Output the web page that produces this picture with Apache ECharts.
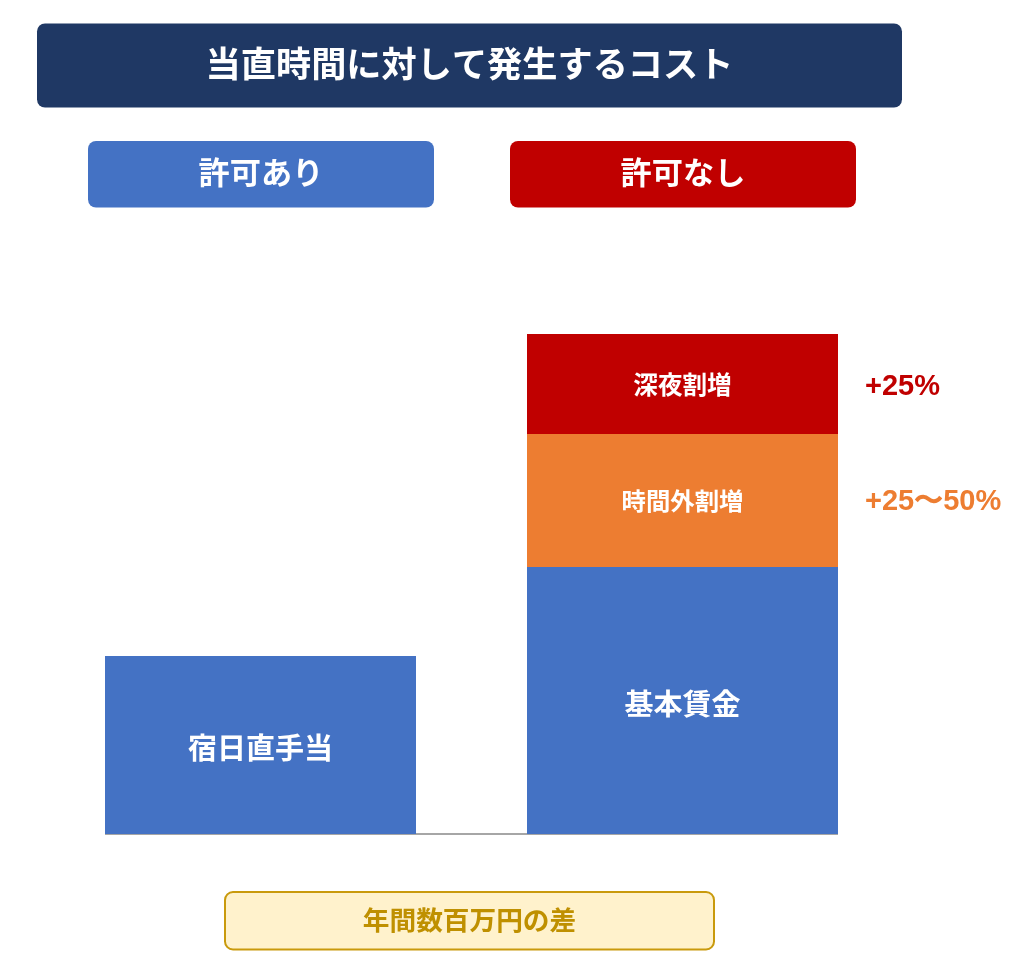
<!DOCTYPE html>
<html><head><meta charset="utf-8">
<style>html,body{margin:0;padding:0;background:#fff}#c{width:1024px;height:971px}</style>
<script src="https://cdn.jsdelivr.net/npm/echarts@6/dist/echarts.min.js"></script>
</head><body><div id="c"></div>
<script>
const categories = ['許可あり', '許可なし'];
const titleText = '当直時間に対して発生するコスト';
const diffText = '年間数百万円の差';
const allowance = [178, null];
const baseWage = [null, 267];
const overtime = [null, 133];
const lateNight = [null, 100];
const seriesNames = ['宿日直手当', '基本賃金', '時間外割増', '深夜割増'];
const rateNotes = ['+25%', '+25〜50%'];

const JP = '"Noto Sans CJK JP","Noto Sans CJK SC",sans-serif';
const NAVY = '#1f3864', BLUE = '#4472c4', RED = '#c00000', ORANGE = '#ed7d31';

function box(x, y, w, h, r, fill, text, size, color, dy, stroke) {
  return {
    type: 'rect', shape: { x, y, width: w, height: h, r },
    style: { fill, stroke: stroke || null, lineWidth: stroke ? 2 : 0 },
    textContent: { style: { text, fill: color, fontFamily: JP, fontWeight: 'bold', fontSize: size } },
    textConfig: { position: 'inside', offset: [0, dy] }
  };
}
function note(x, y, text, fill) {
  return { type: 'text', x, y, style: { text, fill, fontFamily: '"Liberation Sans",sans-serif', fontWeight: 'bold', fontSize: 29, textVerticalAlign: 'middle' } };
}
function barSeries(name, data, color, size, offsetY, stack) {
  return {
    name, type: 'bar', data, stack, barWidth: 311, itemStyle: { color }, silent: true,
    label: { show: true, position: 'inside', formatter: '{a}', color: '#fff', fontFamily: JP, fontWeight: 'bold', fontSize: size, offset: [0, offsetY] }
  };
}

const chart = echarts.init(document.getElementById('c'), null, { renderer: 'canvas' });
chart.setOption({
  animation: false,
  backgroundColor: '#fff',
  grid: { left: 49.5, width: 844, top: 334, height: 500 },
  xAxis: { type: 'category', data: categories, axisLine: { show: false }, axisTick: { show: false }, axisLabel: { show: false } },
  yAxis: { type: 'value', min: 0, max: 500, show: false, splitLine: { show: false } },
  series: [
    barSeries(seriesNames[0], allowance, BLUE, 29, 3, 'a'),
    barSeries(seriesNames[1], baseWage, BLUE, 29, 3, 'a'),
    barSeries(seriesNames[2], overtime, ORANGE, 24.4, 0, 'a'),
    barSeries(seriesNames[3], lateNight, RED, 24.6, 0.5, 'a')
  ],
  graphic: [
    { type: 'line', z: -1, shape: { x1: 105, y1: 834, x2: 838, y2: 834 }, style: { stroke: '#a6a6a6', lineWidth: 2 } },
    box(37, 23.5, 865, 84, 8, NAVY, titleText, 35.2, '#fff', -2),
    box(88, 141, 346, 66.5, 8, BLUE, categories[0], 31.2, '#fff', -2),
    box(510, 141, 346, 66.5, 8, RED, categories[1], 31.2, '#fff', -2),
    box(225, 892, 489, 57.5, 8, '#fff2cc', diffText, 26.7, '#bf9000', -1, '#c99a0c'),
    note(865, 387, rateNotes[0], RED),
    note(865, 502, rateNotes[1], ORANGE)
  ]
});
</script></body></html>
